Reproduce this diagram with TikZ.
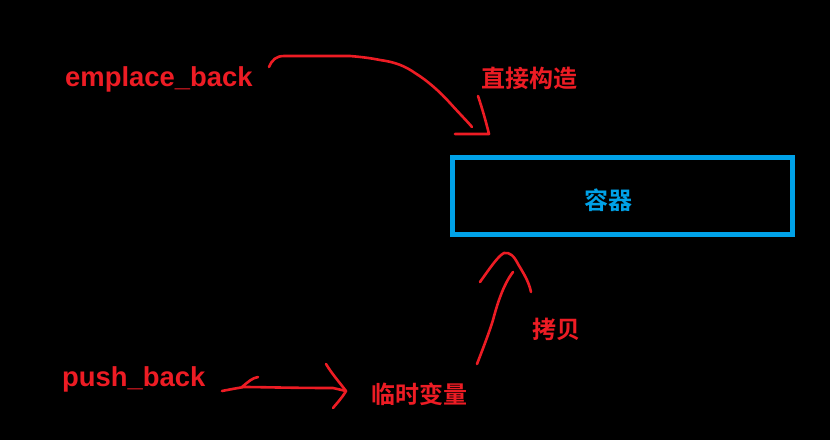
\documentclass[tikz,border=0pt]{standalone}
\usepackage{fontspec}
\setmainfont{Liberation Sans}
\newfontfamily\cjk{Noto Sans CJK SC}[BoldFont={* Bold}]
\definecolor{pred}{HTML}{ED1C24}
\definecolor{pblue}{HTML}{00A2E8}
\begin{document}
\begin{tikzpicture}[x=1pt,y=-1pt,
  lat/.style={inner sep=0pt,text=pred,font=\fontsize{27.4}{30}\selectfont\bfseries},
  zh/.style={inner sep=0pt,text=pred,font=\cjk\fontsize{24}{28}\selectfont\bfseries},
  pen/.style={draw=pred,line width=2.6pt,line cap=round,line join=round}]
\fill[black] (0,0) rectangle (830,440);
\useasboundingbox (0,0) rectangle (830,440);
% container
\draw[pblue,line width=5pt] (452,157) rectangle (792,234);
\node[inner sep=0pt,text=pblue,font=\cjk\fontsize{24}{28}\selectfont\bfseries] (rq) at (608,200) {容器};
% labels
\node[lat,anchor=base west] (eb) at (65,86) {emplace\_back};
\node[lat,anchor=base west] (pb) at (62,386) {push\_back};
\node[zh] (zj) at (529,78) {直接构造};
\node[zh] (ls) at (419,394) {临时变量};
\node[zh] (kb) at (556,329) {拷贝};
% emplace_back stroke
\draw[pen] (269,67) .. controls (272,60) and (276,56) .. (284,56)
  -- (350,56) .. controls (362,57) and (370,58) .. (380,60)
  .. controls (395,62) and (405,66) .. (415,73)
  .. controls (428,81) and (440,92) .. (450,103)
  .. controls (458,112) and (466,120) .. (472,127);
\draw[pen] (478,96) .. controls (482,108) and (485,118) .. (489,134) -- (455,134);
% copy stroke
\draw[pen] (477,364) .. controls (484,346) and (490,330) .. (493,320)
  .. controls (497,305) and (503,285) .. (513,272);
\draw[pen] (480,282) .. controls (490,268) and (498,256) .. (504,253)
  .. controls (510,252) and (514,256) .. (518,264)
  .. controls (524,274) and (529,282) .. (531,292);
% push_back stroke
\draw[pen] (222,391) .. controls (232,389) and (238,388) .. (244,387)
  .. controls (260,387) and (290,388) .. (333,388) -- (346,391);
\draw[pen] (242,387) .. controls (248,382) and (252,378) .. (258,377);
\draw[pen] (326,364) .. controls (332,374) and (340,383) .. (346,391)
  .. controls (342,398) and (337,403) .. (333,408);
\end{tikzpicture}
\end{document}
